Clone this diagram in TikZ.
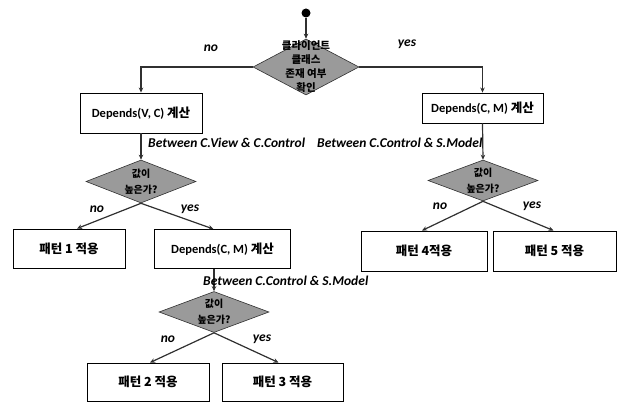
\documentclass[tikz,border=0pt]{standalone}
\usepackage{fontspec}
\setmainfont{Carlito}
\newfontfamily\kr{Noto Sans CJK KR}
\usetikzlibrary{shapes.geometric,arrows.meta}
\definecolor{decgray}{HTML}{9A9A9A}
\definecolor{flowline}{HTML}{303030}

\tikzset{
  task/.style={draw, line width=0.9pt, inner sep=2pt,
    font=\bfseries\fontsize{12.5}{14}\selectfont},
  decision/.style={diamond, draw=flowline, line width=0.6pt, fill=decgray,
    inner sep=0pt, aspect=2.6},
  dectext/.style={align=center, inner sep=0pt,
    font=\kr\bfseries\fontsize{10}{16}\selectfont},
  flow/.style={draw=flowline, line width=1.2pt,
    -{Stealth[length=5pt,width=4.5pt]}},
  branch/.style={font=\bfseries\itshape\fontsize{13.5}{15}\selectfont},
  between/.style={anchor=west, inner sep=0pt,
    font=\bfseries\itshape\fontsize{13.5}{15}\selectfont}
}

\begin{document}
\begin{tikzpicture}[x=1pt,y=-1pt]
\useasboundingbox (0,0) rectangle (621,403);

% start and first check
\node[circle, fill=black, minimum size=9pt, inner sep=0pt] (start) at (306,13) {};
\node[decision, minimum width=106pt, minimum height=56pt,
  label={[dectext, font=\kr\bfseries\fontsize{10.5}{14}\selectfont]center:{클라이언트\\클래스\\존재 여부\\확인}}] (client) at (306,67) {};

% left branch
\node[task, minimum width=122pt, minimum height=40pt] (depvc) at (141,113) {Depends(V, C) {\kr 계산}};
\node[decision, minimum width=110pt, minimum height=43pt,
  label={[dectext]center:{값이\\높은가?}}] (cmpvc) at (141,181.5) {};
\node[task, minimum width=112pt, minimum height=39pt] (pat1) at (69,248.5) {\kr 패턴 1 적용};
\node[task, minimum width=136pt, minimum height=39pt] (depcmlow) at (222.5,249) {Depends(C, M) {\kr 계산}};
\node[decision, minimum width=110pt, minimum height=41pt,
  label={[dectext]center:{값이\\높은가?}}] (cmpcmlow) at (214,312) {};
\node[task, minimum width=122pt, minimum height=38pt] (pat2) at (148,382) {\kr 패턴 2 적용};
\node[task, minimum width=121pt, minimum height=38pt] (pat3) at (282.5,382) {\kr 패턴 3 적용};

% right branch
\node[task, minimum width=121pt, minimum height=30pt] (depcm) at (482.5,108) {Depends(C, M) {\kr 계산}};
\node[decision, minimum width=110pt, minimum height=41pt,
  label={[dectext]center:{값이\\높은가?}}] (cmpcm) at (483,180.5) {};
\node[task, minimum width=126pt, minimum height=40pt] (pat4) at (424,251) {\kr 패턴 4적용};
\node[task, minimum width=123pt, minimum height=40pt] (pat5) at (554.5,251) {\kr 패턴 5 적용};

% connectors
\draw[flow] (start) -- (client.north);
\draw[flow] (client.west) -| (depvc.north);
\draw[flow] (client.east) -| (depcm.north);
\draw[flow] (depvc.south) -- (cmpvc.north);
\draw[flow] (cmpvc.south) -- ([xshift=8pt]pat1.north);
\draw[flow] (cmpvc.south) -- ([xshift=-9pt]depcmlow.north);
\draw[flow] (depcmlow.south -| cmpcmlow.north) -- (cmpcmlow.north);
\draw[flow] (cmpcmlow.south) -- ([xshift=2pt]pat2.north);
\draw[flow] (cmpcmlow.south) -- ([xshift=-4pt]pat3.north);
\draw[flow] (depcm.south) -- (cmpcm.north);
\draw[flow] (cmpcm.south) -- ([xshift=-2pt]pat4.north);
\draw[flow] (cmpcm.south) -- ([xshift=-1pt]pat5.north);

% branch labels
\node[branch] (no0) at (211,48) {no};
\node[branch] (yes0) at (407,44) {yes};
\node[branch] (no1) at (97,209) {no};
\node[branch] (yes1) at (190,209) {yes};
\node[branch] (no2) at (440,206) {no};
\node[branch] (yes2) at (532,206) {yes};
\node[branch] (no3) at (168,339) {no};
\node[branch] (yes3) at (262,339) {yes};

\node[between] (vcnote) at (148,143) {Between C.View \& C.Control};
\node[between] (cmnote) at (317,143) {Between C.Control \& S.Model};
\node[between] (cmnotelow) at (203,281) {Between C.Control \& S.Model};
\end{tikzpicture}
\end{document}
